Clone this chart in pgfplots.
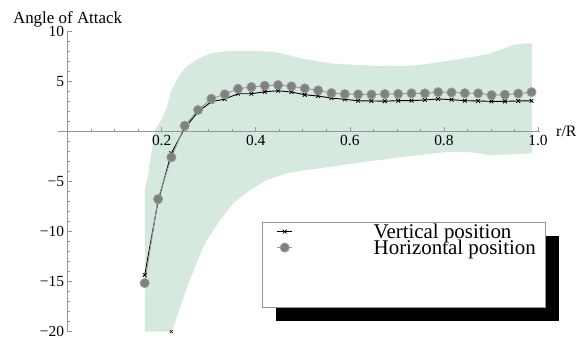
\documentclass[border=0pt]{standalone}
\usepackage{pgfplots}
\pgfplotsset{compat=1.18}
\usepackage{fontspec}
\setmainfont{Liberation Serif}
\definecolor{band}{RGB}{214,233,222}
\definecolor{axgray}{RGB}{150,150,150}
\definecolor{hgray}{RGB}{128,128,128}
\definecolor{hline}{RGB}{150,150,150}

\pgfplotstableread{
x y
0.1639 -14.35
0.1923 -7.00
0.2206 -2.20
0.2490 0.30
0.2773 1.95
0.3057 2.94
0.3341 3.21
0.3624 3.74
0.3908 3.74
0.4191 3.94
0.4475 4.04
0.4759 3.91
0.5042 3.64
0.5326 3.51
0.5609 3.31
0.5893 3.18
0.6177 3.04
0.6460 3.02
0.6744 3.00
0.7027 3.05
0.7311 3.05
0.7595 3.12
0.7878 3.22
0.8162 3.15
0.8445 3.05
0.8729 3.02
0.9013 2.98
0.9296 2.98
0.9580 3.02
0.9863 3.04
}\vertical

\pgfplotstableread{
x y
0.1639 -15.15
0.1923 -6.77
0.2206 -2.60
0.2490 0.55
0.2773 2.12
0.3057 3.24
0.3341 3.68
0.3624 4.24
0.3908 4.41
0.4191 4.54
0.4475 4.61
0.4759 4.48
0.5042 4.28
0.5326 4.08
0.5609 3.81
0.5893 3.71
0.6177 3.68
0.6460 3.66
0.6744 3.71
0.7027 3.73
0.7311 3.78
0.7595 3.78
0.7878 3.90
0.8162 3.87
0.8445 3.80
0.8729 3.78
0.9013 3.61
0.9296 3.65
0.9580 3.76
0.9863 3.90
}\horizontal

\begin{document}
\begin{tikzpicture}
\begin{axis}[
  at={(0,0)}, anchor=south west,
  scale only axis, width=482bp, height=300.7bp,
  xmin=-0.0204, xmax=1.0043, ymin=-20, ymax=10,
  axis lines=middle, axis on top,
  axis line style={axgray, line width=0.8bp, -},
  clip=false,
  xtick={0.2,0.4,0.6,0.8,1.0},
  xticklabels={0.2,0.4,0.6,0.8,1.0},
  minor xtick={0.05,0.1,0.15,0.25,0.3,0.35,0.45,0.5,0.55,0.65,0.7,0.75,0.85,0.9,0.95},
  ytick={-20,-15,-10,-5,5,10},
  yticklabels={−20,−15,−10,−5,5,10},
  minor ytick={-19,-18,-17,-16,-14,-13,-12,-11,-9,-8,-7,-6,-4,-3,-2,-1,1,2,3,4,6,7,8,9},
  tick align=inside,
  major tick length=4bp, minor tick length=2.5bp,
  every tick/.style={axgray, line width=0.6bp},
  ticklabel style={font=\fontsize{15.5}{16}\selectfont, text=black},
  xticklabel style={anchor=north},
  yticklabel style={anchor=east},
  xlabel={r/R}, ylabel={Angle of Attack},
  every axis x label/.style={at={(axis cs:1.0043,0)}, anchor=base west, xshift=12.7bp, yshift=-5.5bp, font=\fontsize{16}{16}\selectfont},
  every axis y label/.style={at={(axis cs:0,10)}, anchor=base, yshift=7bp, font=\fontsize{17}{17}\selectfont},
  legend style={at={(axis cs:0.4137,-9.09)}, anchor=north west, draw=none, fill=none,
    font=\fontsize{21}{21}\selectfont, inner xsep=14.4bp, inner ysep=1bp, row sep=0pt,
    nodes={inner sep=0pt, text height=15bp, text depth=1bp},
    /tikz/every odd column/.append style={column sep=81bp}},
  legend cell align=left,
  legend image code/.code={\draw[mark repeat=2,mark phase=2,#1] plot coordinates {(0cm,0cm) (0.265cm,0cm) (0.53cm,0cm)};},
]
\addplot[fill=band, draw=none, forget plot] coordinates {
(0.1645,-20) (0.1645,-5.9) (0.1716,-4.2) (0.179,-1.9) (0.186,0.1) (0.200,1.2) (0.211,2.4) (0.221,4.1) (0.233,5.2)
(0.246,6.1) (0.260,6.7) (0.274,7.1) (0.292,7.55) (0.31,7.83) (0.340,8.0) (0.366,8.03) (0.40,8.0) (0.437,7.93)
(0.460,7.7) (0.490,7.35) (0.516,7.1) (0.558,6.77) (0.600,6.65) (0.664,6.5) (0.735,6.54) (0.770,6.75)
(0.806,7.0) (0.860,7.4) (0.898,7.77) (0.925,8.2) (0.947,8.6) (0.970,8.75) (0.987,8.77)
(0.987,-2.2) (0.95,-2.3) (0.898,-2.38) (0.848,-2.05) (0.80,-2.1) (0.707,-2.6) (0.636,-3.04)
(0.565,-3.5) (0.537,-3.7) (0.508,-3.87) (0.466,-4.2) (0.423,-4.87) (0.388,-5.87) (0.352,-7.2)
(0.324,-8.86) (0.296,-10.86) (0.285,-11.9) (0.270,-13.6) (0.257,-15.2) (0.245,-16.8) (0.235,-18.2) (0.221,-20)
} -- cycle;
\addplot[black, line width=0.9bp, mark=x, mark size=2.7bp, mark options={line width=0.75bp}] table {\vertical};
\addplot[hline, line width=0.9bp, mark=*, mark size=4.5bp, mark options={fill=hgray, draw=none}] table {\horizontal};
\addplot[only marks, black, mark=x, mark size=2.2bp, mark options={line width=0.5bp}, forget plot] coordinates {(0.2206,-20)};
\fill[black] ([xshift=13.7bp,yshift=-13.7bp]axis cs:0.4137,-9.09) rectangle ([xshift=13.7bp,yshift=-13.7bp]axis cs:1.0149,-17.57);
\filldraw[fill=white, draw=axgray, line width=0.8bp] (axis cs:0.4137,-9.09) rectangle (axis cs:1.0149,-17.57);
\legend{Vertical position, Horizontal position}
\end{axis}
\pgfresetboundingbox
\path[use as bounding box] (-58bp,-6.3bp) rectangle (518bp,331.7bp);
\end{tikzpicture}
\end{document}
